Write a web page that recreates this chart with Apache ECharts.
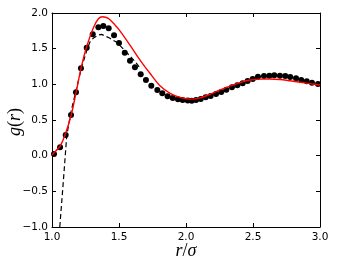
<!DOCTYPE html>
<html>
<head>
<meta charset="utf-8">
<script src="https://cdn.jsdelivr.net/npm/echarts@6/dist/echarts.min.js"></script>
<style>
html,body{margin:0;padding:0;background:#fff;}
#chart{width:338px;height:263px;}
</style>
</head>
<body>
<div id="chart"></div>
<script>
// simulation points (r/sigma, g(r))
const dotR = [1.015,1.060,1.102,1.142,1.179,1.216,1.259,1.304,1.346,1.383,1.423,1.463,1.500,1.543,1.582,1.619,1.662,1.701,1.741,1.786,1.823,1.863,1.901,1.940,1.975,2.013,2.043,2.075,2.110,2.147,2.184,2.224,2.263,2.301,2.343,2.383,2.423,2.460,2.498,2.537,2.582,2.622,2.659,2.701,2.741,2.778,2.821,2.860,2.901,2.940,2.985];
const dotG = [0.023,0.117,0.290,0.570,0.888,1.225,1.514,1.702,1.800,1.818,1.786,1.687,1.580,1.444,1.331,1.239,1.141,1.061,0.981,0.921,0.874,0.832,0.808,0.790,0.780,0.773,0.771,0.780,0.794,0.818,0.837,0.865,0.893,0.925,0.959,0.987,1.015,1.047,1.075,1.107,1.117,1.121,1.127,1.121,1.117,1.103,1.085,1.061,1.043,1.023,1.005];

// red theory curve
const redR = [1.000,1.030,1.060,1.097,1.142,1.179,1.216,1.259,1.308,1.346,1.378,1.420,1.470,1.507,1.582,1.657,1.731,1.806,1.881,1.955,2.030,2.104,2.179,2.254,2.328,2.403,2.478,2.552,2.627,2.701,2.776,2.851,2.925,3.000];
const redG = [0.010,0.070,0.130,0.290,0.560,0.880,1.220,1.530,1.790,1.920,1.948,1.925,1.832,1.750,1.550,1.340,1.155,0.980,0.874,0.818,0.792,0.810,0.860,0.921,0.975,1.025,1.060,1.073,1.075,1.068,1.050,1.030,1.010,0.990];

// dashed curve
const dashR = [1.058,1.085,1.110,1.140,1.180,1.220,1.260,1.284,1.310,1.346,1.370,1.383,1.433,1.483,1.530,1.575,1.620,1.660];
const dashG = [-1.000,-0.350,0.280,0.600,0.920,1.230,1.480,1.598,1.650,1.692,1.700,1.690,1.645,1.589,1.500,1.410,1.320,1.220];

const xTicks = [1.0,1.5,2.0,2.5,3.0];
const yTicks = [-1.0,-0.5,0.0,0.5,1.0,1.5,2.0];

const zip = (a,b) => a.map((v,i)=>[v,b[i]]);
const fmt = v => (v<0?'\u2212':'') + Math.abs(v).toFixed(1);
const font = 'DejaVu Sans';

const chart = echarts.init(document.getElementById('chart'), null, {renderer:'canvas'});
const axisLine = {show:true, onZero:false, lineStyle:{color:'#000', width:1}};
const tick = {show:true, inside:true, length:4, lineStyle:{color:'#000', width:1}};
const rich = {
  i:{font:'italic 18px "Liberation Serif"', fontStyle:'italic', fontFamily:'Liberation Serif', fontSize:18, fill:'#000'},
  n:{font:'normal 18px "Liberation Serif"', fontFamily:'Liberation Serif', fontSize:18, fill:'#000'}
};
chart.setOption({
  animation:false,
  backgroundColor:'#fff',
  grid:{left:52, right:18, top:13, bottom:36, containLabel:false, outerBoundsMode:'none'},
  graphic:[
    {type:'text', style:{text:'{i|r}{n|/}{i|σ}', rich:rich, align:'center', verticalAlign:'middle'}, position:[186,251]},
    {type:'text', style:{text:'{i|g}{n|(}{i|r}{n|)}', rich:rich, align:'center', verticalAlign:'middle'}, position:[15,122], rotation:Math.PI/2}
  ],
  xAxis:[{
    type:'value', min:xTicks[0], max:xTicks[xTicks.length-1], interval:0.5,
    axisLine:axisLine, axisTick:tick, splitLine:{show:false},
    axisLabel:{formatter:fmt, color:'#000', fontFamily:font, fontSize:10.5, margin:5}
  },{
    type:'value', position:'top', min:xTicks[0], max:xTicks[xTicks.length-1], interval:0.5,
    axisLine:axisLine, axisTick:tick, axisLabel:{show:false}, splitLine:{show:false}
  }],
  yAxis:[{
    type:'value', min:yTicks[0], max:yTicks[yTicks.length-1], interval:0.5,
    axisLine:axisLine, axisTick:tick, splitLine:{show:false},
    axisLabel:{formatter:fmt, color:'#000', fontFamily:font, fontSize:10.5, margin:4}
  },{
    type:'value', position:'right', min:yTicks[0], max:yTicks[yTicks.length-1], interval:0.5,
    axisLine:axisLine, axisTick:tick, axisLabel:{show:false}, splitLine:{show:false}
  }],
  series:[
    {type:'scatter', data:zip(dotR,dotG), symbol:'circle', symbolSize:6, itemStyle:{color:'#000', opacity:1}, z:2},
    {type:'line', data:zip(dashR,dashG), showSymbol:false, symbol:'none', lineStyle:{color:'#000', width:1.2, type:[5,3]}, z:3},
    {type:'line', data:zip(redR,redG), showSymbol:false, symbol:'none', smooth:0.3, lineStyle:{color:'#ff0000', width:1.4}, z:4}
  ]
});
</script>
</body>
</html>
